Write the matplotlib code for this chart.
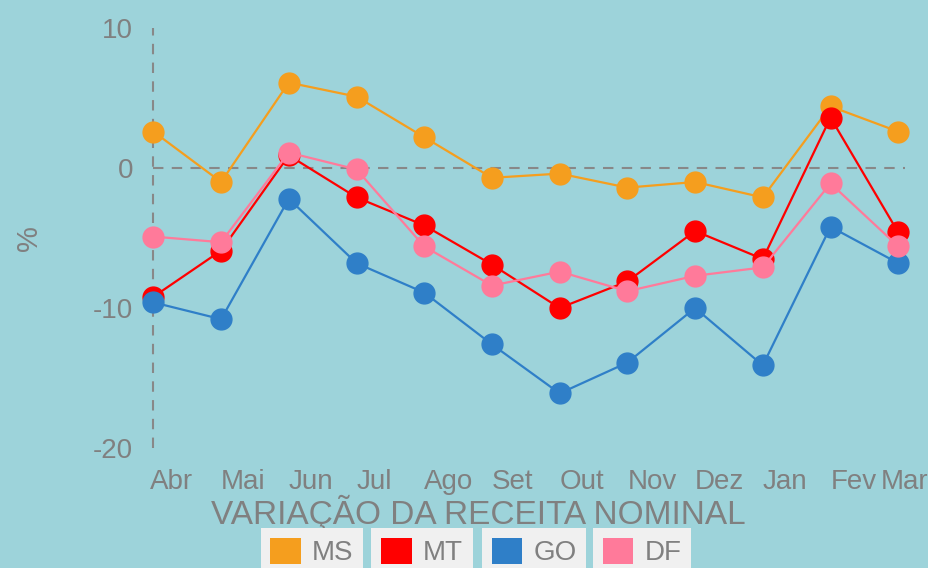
import matplotlib
matplotlib.use('Agg')
import matplotlib.pyplot as plt
import matplotlib.transforms as mtransforms
from matplotlib.patches import Patch

meses = ['Abr', 'Mai', 'Jun', 'Jul', 'Ago', 'Set', 'Out', 'Nov', 'Dez', 'Jan', 'Fev', 'Mar']

ms = [2.6, -1.0, 6.1, 5.1, 2.2, -0.7, -0.4, -1.4, -1.0, -2.1, 4.4, 2.6]
mt = [-9.2, -5.9, 0.9, -2.1, -4.1, -6.9, -10.0, -8.1, -4.5, -6.5, 3.6, -4.6]
go = [-9.6, -10.8, -2.2, -6.8, -8.9, -12.6, -16.1, -13.9, -10.0, -14.1, -4.2, -6.8]
df = [-4.9, -5.3, 1.1, -0.1, -5.6, -8.4, -7.4, -8.8, -7.7, -7.1, -1.1, -5.6]

series = [('MS', ms, '#f59e1e'), ('MT', mt, '#ff0000'),
          ('GO', go, '#2f7fc8'), ('DF', df, '#ff7a9a')]

bg = '#9dd3da'
txt = '#808080'
plt.rcParams['font.family'] = ['Liberation Sans', 'DejaVu Sans']
plt.rcParams['axes.unicode_minus'] = False

fig = plt.figure(figsize=(9.29, 5.68), dpi=100, facecolor=bg)
ax = fig.add_axes([150/929, 120/568, 755/929, 420/568])
ax.set_facecolor(bg)

x = list(range(len(meses)))

# eixos tracejados
ax.axvline(0, color='#888888', lw=1.5, ls=(0, (5, 4)), zorder=1)
ax.hlines(0, 0, 11.1, color='#888888', lw=1.5, ls=(0, (5, 4)), zorder=1)

for nome, vals, cor in series:
    ax.plot(x, vals, '-', color=cor, lw=1.6, marker='o', markersize=15,
            label=nome, clip_on=False, zorder=3)

ax.set_xlim(-0.05, 11.1)
ax.set_ylim(-20, 10)
ax.set_yticks([-20, -10, 0, 10])
ax.set_xticks(x)
ax.set_xticklabels(meses)
for s in ax.spines.values():
    s.set_visible(False)
ax.tick_params(axis='both', length=0, colors=txt, labelsize=20)
ax.tick_params(axis='x', pad=15)
ax.tick_params(axis='y', pad=12)

labels = ax.get_xticklabels()
for lb in labels:
    lb.set_ha('left')
labels[0].set_transform(labels[0].get_transform() + mtransforms.ScaledTranslation(-3/100, 0, fig.dpi_scale_trans))
labels[-1].set_ha('right')
labels[-1].set_transform(labels[-1].get_transform() + mtransforms.ScaledTranslation(30/100, 0, fig.dpi_scale_trans))

ax.set_ylabel('%', color=txt, fontsize=21, labelpad=36)
fig.text(478/929, 1 - 513/568, 'VARIAÇÃO DA RECEITA NOMINAL', color=txt,
         fontsize=24, ha='center', va='center')

# legenda: cada item com sua caixa
centros = [312, 422, 534, 642]
for (nome, vals, cor), cx in zip(series, centros):
    h = Patch(facecolor=cor, edgecolor='none')
    fig.legend([h], [nome], loc='center', bbox_to_anchor=(cx/929, 1 - 552/568),
               frameon=True, facecolor='#f0f0f0', edgecolor='none', framealpha=1,
               fancybox=False, fontsize=20, labelcolor=txt, handlelength=1.1,
               handleheight=1.1, handletextpad=0.4, borderpad=0.35)

fig.savefig('out.png', dpi=100, facecolor=bg)
